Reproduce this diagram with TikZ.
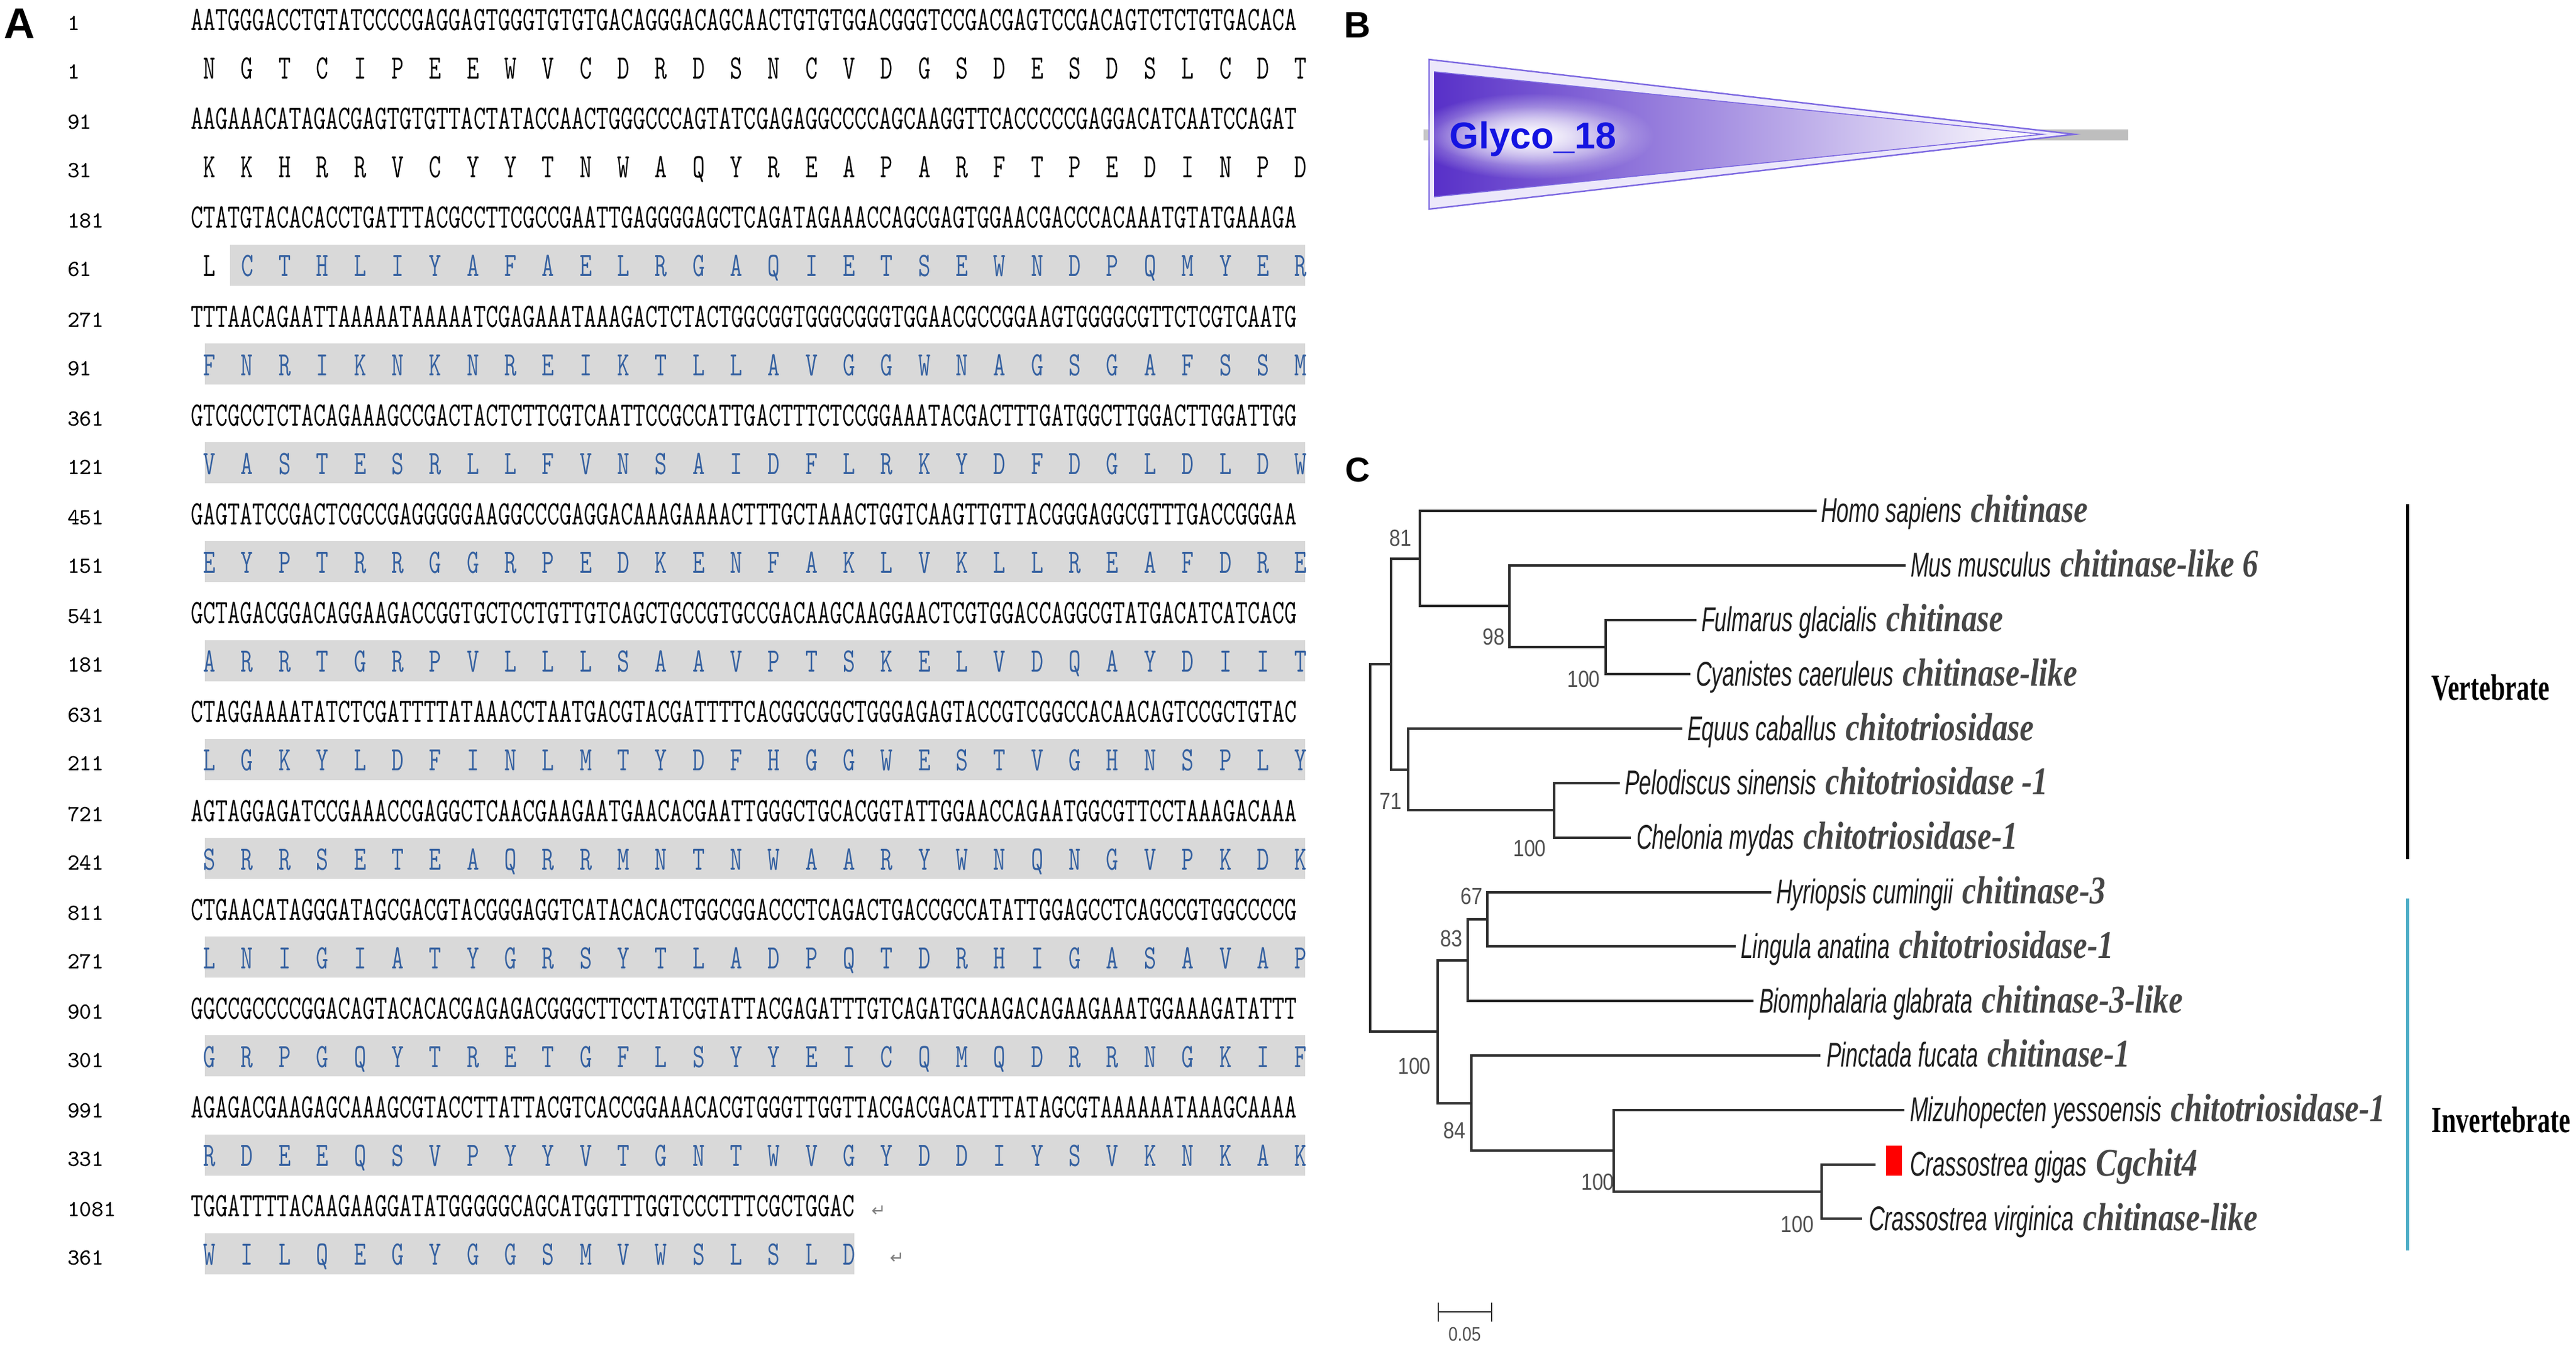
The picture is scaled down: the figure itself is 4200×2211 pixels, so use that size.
\documentclass[tikz,border=0pt]{standalone}
\usepackage{fontspec}
\usepackage{graphicx}
\usetikzlibrary{calc,fadings}
\tikzfading[name=halo, inner color=transparent!0, outer color=transparent!100]
\newfontfamily\spfont{Liberation Sans}[FakeStretch=0.64]
\newfontfamily\genefont{Liberation Serif}[FakeStretch=0.8]
\newfontfamily\grpfont{Liberation Serif}[FakeStretch=0.7]
\newfontfamily\bsfont{Liberation Sans}[FakeStretch=0.85]
\newfontfamily\pnlfont{Liberation Sans}
\newfontfamily\symfont{DejaVu Sans}
\definecolor{aablue}{RGB}{52,96,160}
\definecolor{aagray}{RGB}{217,217,217}
\definecolor{treegray}{RGB}{45,45,45}
\definecolor{spcol}{RGB}{30,30,30}
\definecolor{genecol}{RGB}{70,70,70}
\definecolor{bscol}{RGB}{80,80,80}
\definecolor{invblue}{RGB}{75,172,198}
\definecolor{glycoblue}{RGB}{20,20,225}
\definecolor{tridark}{RGB}{88,48,200}
\definecolor{trimid}{RGB}{150,128,220}
\definecolor{triline}{RGB}{125,105,225}
\definecolor{triband}{RGB}{236,232,250}
\definecolor{bargray}{RGB}{190,190,190}
\newlength\aacell
\setlength\aacell{21.91pt}
\def\aaloop#1{\ifx\relax#1\else\makebox[\aacell]{#1}\expandafter\aaloop\fi}
\newcommand\aastr[1]{\scalebox{0.70}[1]{\aaloop#1\relax}}
\newcommand\ntstr[1]{\scalebox{0.70}[1]{#1}}
\newcommand\leaflabel[2]{{\color{spcol}\spfont\itshape\fontsize{14pt}{16pt}\selectfont #1}\hspace{3.75pt}{\color{genecol}\genefont\bfseries\itshape\fontsize{16pt}{18pt}\selectfont #2}}
\begin{document}
\begin{tikzpicture}[x=0.25pt,y=-0.25pt,
  seq/.style={inner sep=0pt,outer sep=0pt,anchor=base west,font=\ttfamily\fontsize{13.9pt}{14pt}\selectfont},
  aaseq/.style={seq,text=aablue},
  num/.style={inner sep=0pt,outer sep=0pt,anchor=base west,font=\ttfamily\fontsize{9.4pt}{10pt}\selectfont},
  ret/.style={inner sep=0pt,anchor=base west,text=gray,font=\symfont\fontsize{7pt}{8pt}\selectfont},
  pnl/.style={inner sep=0pt,anchor=base west,font=\pnlfont\bfseries},
  branch/.style={draw=treegray,line width=1.0pt},
  leaf/.style={inner sep=0pt,outer sep=0pt,anchor=base west},
  boot/.style={inner sep=0pt,text=bscol,font=\bsfont\fontsize{9.5pt}{10pt}\selectfont},
  grp/.style={inner sep=0pt,anchor=base west,font=\grpfont\bfseries\fontsize{15pt}{16pt}\selectfont},
  glyco/.style={inner sep=0pt,anchor=base west,font=\pnlfont\bfseries\fontsize{15.25pt}{16pt}\selectfont}]
\fill[white] (0,0) rectangle (4200,2211);
\useasboundingbox (0,0) rectangle (4200,2211);
% ---------------- Panel A ----------------
\node[pnl,font=\pnlfont\bfseries\fontsize{17.5pt}{18pt}\selectfont] (labA) at (6,63) {A};
\foreach \j/\n/\s in {
0/1/AATGGGACCTGTATCCCCGAGGAGTGGGTGTGTGACAGGGACAGCAACTGTGTGGACGGGTCCGACGAGTCCGACAGTCTCTGTGACACA,
1/91/AAGAAACATAGACGAGTGTGTTACTATACCAACTGGGCCCAGTATCGAGAGGCCCCAGCAAGGTTCACCCCCGAGGACATCAATCCAGAT,
2/181/CTATGTACACACCTGATTTACGCCTTCGCCGAATTGAGGGGAGCTCAGATAGAAACCAGCGAGTGGAACGACCCACAAATGTATGAAAGA,
3/271/TTTAACAGAATTAAAAATAAAAATCGAGAAATAAAGACTCTACTGGCGGTGGGCGGGTGGAACGCCGGAAGTGGGGCGTTCTCGTCAATG,
4/361/GTCGCCTCTACAGAAAGCCGACTACTCTTCGTCAATTCCGCCATTGACTTTCTCCGGAAATACGACTTTGATGGCTTGGACTTGGATTGG,
5/451/GAGTATCCGACTCGCCGAGGGGGAAGGCCCGAGGACAAAGAAAACTTTGCTAAACTGGTCAAGTTGTTACGGGAGGCGTTTGACCGGGAA,
6/541/GCTAGACGGACAGGAAGACCGGTGCTCCTGTTGTCAGCTGCCGTGCCGACAAGCAAGGAACTCGTGGACCAGGCGTATGACATCATCACG,
7/631/CTAGGAAAATATCTCGATTTTATAAACCTAATGACGTACGATTTTCACGGCGGCTGGGAGAGTACCGTCGGCCACAACAGTCCGCTGTAC,
8/721/AGTAGGAGATCCGAAACCGAGGCTCAACGAAGAATGAACACGAATTGGGCTGCACGGTATTGGAACCAGAATGGCGTTCCTAAAGACAAA,
9/811/CTGAACATAGGGATAGCGACGTACGGGAGGTCATACACACTGGCGGACCCTCAGACTGACCGCCATATTGGAGCCTCAGCCGTGGCCCCG,
10/901/GGCCGCCCCGGACAGTACACACGAGAGACGGGCTTCCTATCGTATTACGAGATTTGTCAGATGCAAGACAGAAGAAATGGAAAGATATTT,
11/991/AGAGACGAAGAGCAAAGCGTACCTTATTACGTCACCGGAAACACGTGGGTTGGTTACGACGACATTTATAGCGTAAAAAATAAAGCAAAA,
12/1081/TGGATTTTACAAGAAGGATATGGGGGCAGCATGGTTTGGTCCCTTTCGCTGGAC}{
  \node[seq] (nt\j) at (311,{49.5+161.2*\j}) {\ntstr{\s}};
  \node[num] (ntn\j) at (110,{49.5+161.2*\j}) {\n};
}
\node[ret] (retnt) at (1420,1984) {↵};
% amino-acid rows
\node[seq] (aa0) at (311,128.5) {\aastr{NGTCIPEEWVCDRDSNCVDGSDESDSLCDT}};
\node[num] (aan0) at (110,128.5) {1};
\node[seq] (aa1) at (311,289.7) {\aastr{KKHRRVCYYTNWAQYREAPARFTPEDINPD}};
\node[num] (aan1) at (110,289.7) {31};
\fill[aagray] (375,398.9) rectangle (2128,465.9);
\node[aaseq] (aa2) at (311,450.9) {{\color{black}\scalebox{0.70}[1]{\makebox[\aacell]{L}}}\aastr{CTHLIYAFAELRGAQIETSEWNDPQMYER}};
\node[num] (aan2) at (110,450.9) {61};
\foreach \j/\n/\s in {
3/91/FNRIKNKNREIKTLLAVGGWNAGSGAFSSM,
4/121/VASTESRLLFVNSAIDFLRKYDFDGLDLDW,
5/151/EYPTRRGGRPEDKENFAKLVKLLREAFDRE,
6/181/ARRTGRPVLLLSAAVPTSKELVDQAYDIIT,
7/211/LGKYLDFINLMTYDFHGGWESTVGHNSPLY,
8/241/SRRSETEAQRRMNTNWAARYWNQNGVPKDK,
9/271/LNIGIATYGRSYTLADPQTDRHIGASAVAP,
10/301/GRPGQYTRETGFLSYYEICQMQDRRNGKIF,
11/331/RDEEQSVPYYVTGNTWVGYDDIYSVKNKAK}{
  \fill[aagray] (334,{128.5+161.2*\j-52}) rectangle (2128,{128.5+161.2*\j+15});
  \node[aaseq] (aa\j) at (311,{128.5+161.2*\j}) {\expandafter\aastr\expandafter{\s}};
  \node[num] (aan\j) at (110,{128.5+161.2*\j}) {\n};
}
\fill[aagray] (334,2010.9) rectangle (1393,2077.9);
\node[aaseq] (aa12) at (311,2062.9) {\aastr{WILQEGYGGSMVWSLSLD}};
\node[num] (aan12) at (110,2062.9) {361};
\node[ret] (retaa) at (1450,2060) {↵};
% ---------------- Panel B ----------------
\node[pnl,font=\pnlfont\bfseries\fontsize{15pt}{16pt}\selectfont] (labB) at (2191,62) {B};
\fill[bargray] (2321,211) rectangle (3470,229);
\filldraw[fill=triband,draw=triline,line width=0.6pt] (2330,97) -- (3382,219) -- (2330,341) -- cycle;
\shade[left color=tridark,middle color=trimid,right color=white] (2338,117) -- (3330,219) -- (2338,321) -- cycle;
\draw[triline,line width=0.4pt] (2338,117) -- (3330,219) -- (2338,321);
\coordinate (glypos) at (2363,243);
\fill[white,path fading=halo] (2497,222) ellipse (200 and 70);
\fill[white,opacity=0.6,path fading=halo] (2497,222) ellipse (165 and 48);
\node[glyco,text=glycoblue] (glyco) at (glypos) {Glyco\_18};
% ---------------- Panel C ----------------
\node[pnl,font=\pnlfont\bfseries\fontsize{14pt}{15pt}\selectfont] (labC) at (2193,786) {C};
% leaves (branch ends)
\coordinate (homo) at (2962,833);
\coordinate (mus) at (3107,921.8);
\coordinate (fulm) at (2766,1010.6);
\coordinate (cyan) at (2756,1099.4);
\coordinate (equus) at (2743,1188.2);
\coordinate (pelo) at (2641,1277);
\coordinate (chel) at (2659,1365.8);
\coordinate (hyri) at (2888,1454.6);
\coordinate (ling) at (2830,1543.4);
\coordinate (biom) at (2859,1632.2);
\coordinate (pinc) at (2968,1721);
\coordinate (mizu) at (3105,1809.8);
\coordinate (cgig) at (3058,1898.6);
\coordinate (cvir) at (3036,1987.4);
% internal nodes
\coordinate (n100a) at (2618,1055);
\coordinate (n98) at (2461,988.4);
\coordinate (n81) at (2315,910.7);
\coordinate (n100b) at (2534,1321.4);
\coordinate (n71) at (2296,1254.8);
\coordinate (vert) at (2268,1082.75);
\coordinate (n67) at (2425,1499);
\coordinate (n83) at (2393,1565.6);
\coordinate (n100e) at (2970,1943);
\coordinate (n100d) at (2631,1876.4);
\coordinate (n84) at (2399,1798.7);
\coordinate (inv) at (2344,1682.15);
\coordinate (root) at (2234,1382.45);
\foreach \p/\c in {root/vert,root/inv,vert/n81,vert/n71,n81/homo,n81/n98,n98/mus,n98/n100a,
  n100a/fulm,n100a/cyan,n71/equus,n71/n100b,n100b/pelo,n100b/chel,inv/n83,inv/n84,
  n83/n67,n83/biom,n67/hyri,n67/ling,n84/pinc,n84/n100d,n100d/mizu,n100d/n100e,
  n100e/cgig,n100e/cvir}{
  \draw[branch] (\p) |- (\c);
}
% leaf labels
\node[leaf] (homoT) at ($(homo)+(7,19)$) {\leaflabel{Homo sapiens}{chitinase}};
\node[leaf] (musT) at ($(mus)+(8,19)$) {\leaflabel{Mus musculus}{chitinase-like 6}};
\node[leaf] (fulmT) at ($(fulm)+(8,19)$) {\leaflabel{Fulmarus glacialis}{chitinase}};
\node[leaf] (cyanT) at ($(cyan)+(9,19)$) {\leaflabel{Cyanistes caeruleus}{chitinase-like}};
\node[leaf] (equusT) at ($(equus)+(8,19)$) {\leaflabel{Equus caballus}{chitotriosidase}};
\node[leaf] (peloT) at ($(pelo)+(8,19)$) {\leaflabel{Pelodiscus sinensis}{chitotriosidase -1}};
\node[leaf] (chelT) at ($(chel)+(9,19)$) {\leaflabel{Chelonia mydas}{chitotriosidase-1}};
\node[leaf] (hyriT) at ($(hyri)+(8,19)$) {\leaflabel{Hyriopsis cumingii}{chitinase-3}};
\node[leaf] (lingT) at ($(ling)+(8,19)$) {\leaflabel{Lingula anatina}{chitotriosidase-1}};
\node[leaf] (biomT) at ($(biom)+(9,19)$) {\leaflabel{Biomphalaria glabrata}{chitinase-3-like}};
\node[leaf] (pincT) at ($(pinc)+(10,19)$) {\leaflabel{Pinctada fucata}{chitinase-1}};
\node[leaf] (mizuT) at ($(mizu)+(9,19)$) {\leaflabel{Mizuhopecten yessoensis}{chitotriosidase-1}};
\fill[red] (3075,1868) rectangle (3101,1917);
\node[leaf] (cgigT) at (3114,1917.6) {\leaflabel{Crassostrea gigas}{Cgchit4}};
\node[leaf] (cvirT) at ($(cvir)+(11,19)$) {\leaflabel{Crassostrea virginica}{chitinase-like}};
% bootstrap values
\node[boot] (b81) at (2283,877) {81};
\node[boot] (b98) at (2435,1038) {98};
\node[boot] (b100a) at (2582,1107) {100};
\node[boot] (b71) at (2267,1306) {71};
\node[boot] (b100b) at (2494,1383) {100};
\node[boot] (b67) at (2399,1461) {67};
\node[boot] (b83) at (2366,1530) {83};
\node[boot] (b100c) at (2306,1738) {100};
\node[boot] (b84) at (2371,1843) {84};
\node[boot] (b100d) at (2605,1927) {100};
\node[boot] (b100e) at (2930,1996) {100};
% group bars
\draw[black,line width=1.25pt] (3925,822) -- (3925,1401);
\node[grp] (vertT) at (3964,1142) {Vertebrate};
\draw[invblue,line width=1.25pt] (3925,1465) -- (3925,2039);
\node[grp] (invT) at (3964,1847) {Invertebrate};
% scale bar
\coordinate (sbL) at (2345,2139);
\coordinate (sbR) at (2432,2139);
\draw[treegray,line width=0.6pt] (sbL) -- (sbR);
\draw[treegray,line width=0.6pt] ($(sbL)+(0,-15)$) -- ($(sbL)+(0,16)$);
\draw[treegray,line width=0.6pt] ($(sbR)+(0,-15)$) -- ($(sbR)+(0,16)$);
\node[boot,font=\bsfont\fontsize{8pt}{9pt}\selectfont] (sbT) at (2388,2175) {0.05};
\end{tikzpicture}
\end{document}
